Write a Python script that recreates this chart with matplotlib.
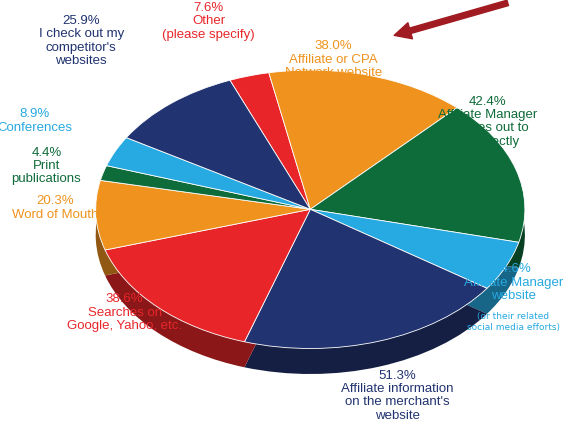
import matplotlib
matplotlib.use("Agg")
import matplotlib.pyplot as plt
import matplotlib.colors as mc

labels = ["Other\n(please specify)", "Affiliate or CPA\nNetwork website",
          "Affiliate Manager\nreaches out to\nme directly", "Affiliate Manager\nwebsite",
          "Affiliate information\non the merchant's\nwebsite", "Searches on\nGoogle, Yahoo, etc.",
          "Word of Mouth", "Print\npublications", "Conferences",
          "I check out my\ncompetitor's\nwebsites"]
values = [7.6, 38.0, 42.4, 14.6, 51.3, 38.6, 20.3, 4.4, 8.9, 25.9]
colors = ["#e8262a", "#f0931e", "#0e6b3a", "#27a9e1", "#213370",
          "#e8262a", "#f0931e", "#0e6b3a", "#27a9e1", "#213370"]
# label positions (figure fraction)
pos = [(0.36, 0.995), (0.575, 0.905), (0.84, 0.775),
       (0.885, 0.38), (0.685, 0.13), (0.215, 0.31),
       (0.095, 0.54), (0.08, 0.655), (0.06, 0.745),
       (0.14, 0.965)]

fig = plt.figure(figsize=(5.8, 4.25), dpi=100)
fig.patch.set_facecolor("white")
L, B, W, H = 0.165, 0.18, 0.74, 0.655
dark = [tuple(c * 0.6 for c in mc.to_rgb(col)) for col in colors]
for axb, cols, ec in [([L, B - 0.06, W, H], dark, "none"), ([L, B, W, H], colors, "white")]:
    ax = fig.add_axes(axb)
    ax.pie(values, colors=cols, startangle=112, counterclock=False,
           wedgeprops=dict(edgecolor=ec, linewidth=0.6))
    ax.set_aspect("auto"); ax.axis("off")
    ax.set_xlim(-1, 1); ax.set_ylim(-1, 1)

for lab, v, c, (x, y) in zip(labels, values, colors, pos):
    fig.text(x, y, f"{v}%\n{lab}", color=c, ha="center", va="top", fontsize=9.5,
             linespacing=1.15, family="Liberation Sans")
fig.text(0.885, 0.265, "(or their related\nsocial media efforts)", color="#27a9e1",
         ha="center", va="top", fontsize=6.5)
ax2 = fig.add_axes([0, 0, 1, 1]); ax2.axis("off"); ax2.set_xlim(0, 1); ax2.set_ylim(0, 1)
ax2.annotate("", xy=(0.675, 0.915), xytext=(0.88, 0.995),
             arrowprops=dict(arrowstyle="simple,head_width=1.2,head_length=1.2,tail_width=0.4",
                             color="#a01c22"))
fig.savefig("out.png", dpi=100)
